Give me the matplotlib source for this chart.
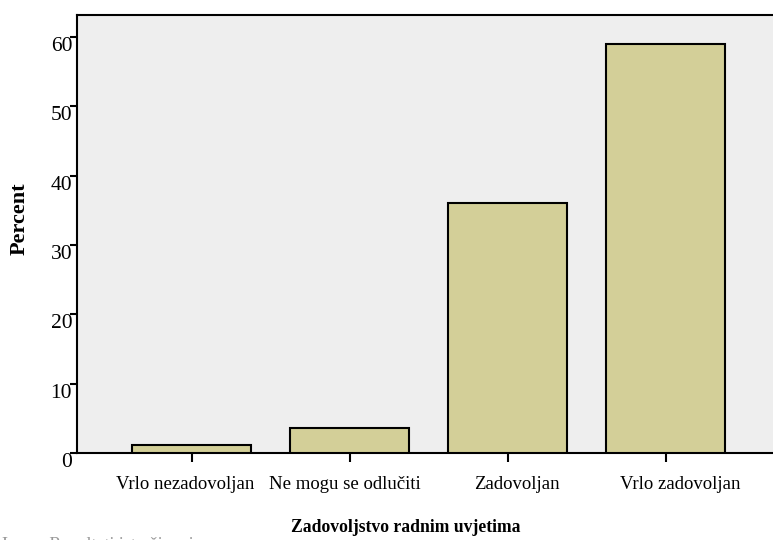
import matplotlib
matplotlib.use("Agg")
import matplotlib.pyplot as plt
import matplotlib.transforms as mtransforms
import numpy as np

categories = ["Vrlo nezadovoljan", "Ne mogu se odlučiti", "Zadovoljan", "Vrlo zadovoljan"]
percent = [1.2, 3.6, 36.1, 59.0]
yticks = [0, 10, 20, 30, 40, 50, 60]

plt.rcParams['font.family'] = ['Liberation Serif', 'DejaVu Serif']

fig = plt.figure(figsize=(7.73, 5.4), dpi=100)
# axes runs a bit past the right edge, like the cropped original
ax = fig.add_axes([77 / 773, 87 / 540, 703.5 / 773, 438 / 540])
ax.set_facecolor("#eeeeee")

x = np.arange(len(categories))
ax.bar(x, percent, width=0.753, color="#d3cf98", edgecolor="black", linewidth=1.5, zorder=3)

ax.set_xlim(-0.726, len(categories) - 1 + 0.726)
ax.set_ylim(0, 63.2)

ax.set_xticks(x)
ax.set_xticklabels([])
ax.set_yticks(yticks)
ax.set_yticklabels([str(v) for v in yticks], fontsize=15.5)
for lab in ax.get_yticklabels():
    lab.set_va("top")

# category labels drawn by hand: in the original they sit a little off their ticks
nudges = [-7, -5, 9, 14]
base = ax.get_xaxis_transform()
for xi, name, dx in zip(x, categories, nudges):
    tr = base + mtransforms.ScaledTranslation(dx / 100, -23 / 100, fig.dpi_scale_trans)
    ax.text(xi, 0, name, transform=tr, ha="center", va="top", fontsize=13.5, clip_on=False)

ax.tick_params(axis="x", direction="out", length=6.5, width=1.5)
ax.tick_params(axis="y", direction="out", length=5, width=1.5, pad=-1.5)

for s in ax.spines.values():
    s.set_linewidth(1.5)
    s.set_color("black")

fig.text(20 / 773, 1 - 219 / 540, "Percent", rotation=90, ha="center", va="center",
         fontsize=16, fontweight="bold")
fig.text(405.5 / 773, 1 - 527 / 540, "Zadovoljstvo radnim uvjetima", ha="center", va="center",
         fontsize=12.7, fontweight="bold")
# source line, mostly cut off at the bottom of the image
fig.text(2 / 773, 1 - 537.5 / 540, "Izvor: Rezultati istraživanja", ha="left", va="top",
         fontsize=13, color="#999999")

fig.savefig("out.png", dpi=100)
